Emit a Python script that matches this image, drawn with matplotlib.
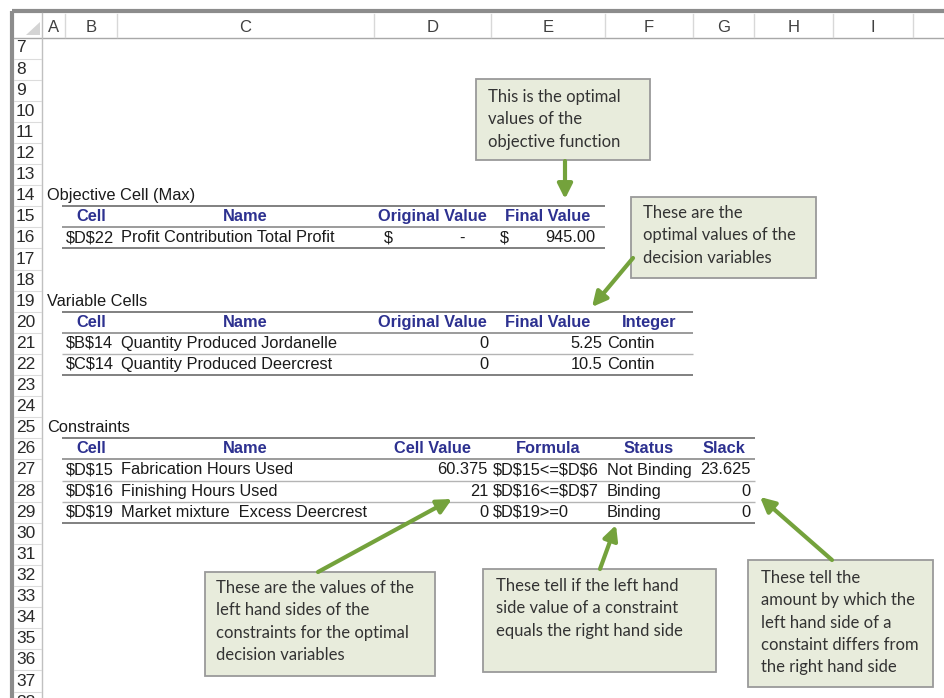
import matplotlib
matplotlib.use("Agg")
import matplotlib.pyplot as plt
from matplotlib.patches import Rectangle, Polygon

plt.rcParams['text.parse_math'] = False

# spreadsheet content
col_letters = ['A', 'B', 'C', 'D', 'E', 'F', 'G', 'H', 'I']
row_numbers = list(range(7, 39))

obj_title = 'Objective Cell (Max)'
obj_headers = ['Cell', 'Name', 'Original Value', 'Final Value']
obj_cell = '$D$22'
obj_name = 'Profit Contribution Total Profit'
obj_original = '-'
obj_final = 945.00

var_title = 'Variable Cells'
var_headers = ['Cell', 'Name', 'Original Value', 'Final Value', 'Integer']
var_cells = ['$B$14', '$C$14']
var_names = ['Quantity Produced Jordanelle', 'Quantity Produced Deercrest']
var_original = [0, 0]
var_final = [5.25, 10.5]
var_integer = ['Contin', 'Contin']

con_title = 'Constraints'
con_headers = ['Cell', 'Name', 'Cell Value', 'Formula', 'Status', 'Slack']
con_cells = ['$D$15', '$D$16', '$D$19']
con_names = ['Fabrication Hours Used', 'Finishing Hours Used',
             'Market mixture  Excess Deercrest']
con_values = [60.375, 21, 0]
con_formulas = ['$D$15<=$D$6', '$D$16<=$D$7', '$D$19>=0']
con_status = ['Not Binding', 'Binding', 'Binding']
con_slack = [23.625, 0, 0]

notes = [
    "This is the optimal\nvalues of the\nobjective function",
    "These are the\noptimal values of the\ndecision variables",
    "These are the values of the\nleft hand sides of the\nconstraints for the optimal\ndecision variables",
    "These tell if the left hand\nside value of a constraint\nequals the right hand side",
    "These tell the\namount by which the\nleft hand side of a\nconstaint differs from\nthe right hand side",
]

# layout
col_edges = [42, 65, 117, 374, 491, 605, 693, 754, 833, 913]
ROW0, RH = 48.0, 21.1


def ry(r):
    return ROW0 + (r - 7) * RH


def cx(i):
    return (col_edges[i] + col_edges[i + 1]) / 2


SS = 'Liberation Sans'
FS = 11.8
NAVY = '#2d3190'
TXT = '#1a1a1a'

fig = plt.figure(figsize=(9.44, 6.98), dpi=100)
ax = fig.add_axes([0, 0, 1, 1])
ax.set_xlim(0, 944)
ax.set_ylim(698, 0)
ax.axis('off')

# frame
ax.plot([12, 944], [11, 11], color='#8c8c8c', lw=3, solid_capstyle='butt')
ax.plot([12, 12], [11, 698], color='#8c8c8c', lw=3, solid_capstyle='butt')
ax.plot([14, 944], [38, 38], color='#a8a8a8', lw=1)
ax.plot([42, 42], [13, 698], color='#c0c0c0', lw=1)
ax.add_patch(Polygon([(26, 35), (40, 35), (40, 22)], closed=True,
                     color='#d4d4d4', lw=0))

for i, letter in enumerate(col_letters):
    ax.text(cx(i), 27, letter, ha='center', va='center', family=SS,
            fontsize=12, color='#404040')
for x in col_edges[1:]:
    ax.plot([x, x], [14, 37], color='#d8d8d8', lw=1)

for r in row_numbers:
    ax.text(16, ry(r), str(r), ha='left', va='center', family=SS,
            fontsize=12.5, color='#2a2a2a')
    ax.plot([14, 41], [ry(r) + RH / 2, ry(r) + RH / 2], color='#dcdcdc', lw=0.8)


def hline(r_top, x0, x1, color='#808080', lw=1.4):
    y = ry(r_top) - RH / 2
    ax.plot([x0, x1], [y, y], color=color, lw=lw, solid_capstyle='butt')


def cell(r, x, s, ha='left', color=TXT, weight='normal'):
    ax.text(x, ry(r), s, ha=ha, va='center', family=SS, fontsize=FS,
            color=color, fontweight=weight)


def fmt(v):
    return '{:g}'.format(v)


# objective table
cell(14, 47, obj_title)
for i, h in enumerate(obj_headers):
    cell(15, cx(i + 1), h, ha='center', color=NAVY, weight='bold')
cell(16, 66, obj_cell)
cell(16, 121, obj_name)
cell(16, 384, '$')
cell(16, 462, obj_original, ha='center')
cell(16, 500, '$')
cell(16, 595, '{:.2f}'.format(obj_final), ha='right')
hline(15, 62, 605)
hline(16, 62, 605, color='#8a8a8a', lw=1.2)
hline(17, 62, 605)

# variable table
cell(19, 47, var_title)
for i, h in enumerate(var_headers):
    cell(20, cx(i + 1), h, ha='center', color=NAVY, weight='bold')
for k in range(len(var_cells)):
    r = 21 + k
    cell(r, 66, var_cells[k])
    cell(r, 121, var_names[k])
    cell(r, 488, fmt(var_original[k]), ha='right')
    cell(r, 602, fmt(var_final[k]), ha='right')
    cell(r, 607, var_integer[k])
hline(20, 62, 693)
hline(21, 62, 693, color='#8a8a8a', lw=1.2)
hline(22, 62, 693, color='#b4b4b4', lw=1)
hline(23, 62, 693)

# constraints table
cell(25, 47, con_title)
for i, h in enumerate(con_headers):
    cell(26, cx(i + 1), h, ha='center', color=NAVY, weight='bold')
for k in range(len(con_cells)):
    r = 27 + k
    cell(r, 66, con_cells[k])
    cell(r, 121, con_names[k])
    cell(r, 488, fmt(con_values[k]), ha='right')
    cell(r, 493, con_formulas[k])
    cell(r, 607, con_status[k])
    cell(r, 751, fmt(con_slack[k]), ha='right')
hline(26, 62, 755)
hline(27, 62, 755, color='#8a8a8a', lw=1.2)
hline(28, 62, 755, color='#b4b4b4', lw=1)
hline(29, 62, 755, color='#b4b4b4', lw=1)
hline(30, 62, 755)

# callouts: box (x0, y0, x1, y1), text origin, arrow start, arrow tip
boxes = [
    ((476, 79, 650, 160), (488, 89), (565, 161), (565, 199)),
    ((631, 197, 816, 278), (643, 205), (633, 258), (592, 307)),
    ((205, 572, 435, 676), (216, 580), (318, 572), (452, 499)),
    ((483, 569, 716, 672), (496, 578), (600, 569), (616, 525)),
    ((748, 560, 933, 687), (761, 570), (832, 560), (760, 497)),
]
GREEN = '#74a23c'

for note, (rect, (tx, ty), start, tip) in zip(notes, boxes):
    x0, y0, x1, y1 = rect
    ax.add_patch(Rectangle((x0, y0), x1 - x0, y1 - y0, facecolor='#e8ecdc',
                           edgecolor='#9a9a9a', lw=1.3, zorder=3))
    ax.text(tx, ty, note, ha='left', va='top', family='Lato', fontsize=12,
            color='#333333', linespacing=1.49, zorder=4)
    ax.annotate('', xy=tip, xytext=start,
                arrowprops=dict(arrowstyle='-|>', color=GREEN, lw=3,
                                mutation_scale=22, shrinkA=0, shrinkB=0),
                zorder=5)

fig.savefig('out.png', dpi=100)
